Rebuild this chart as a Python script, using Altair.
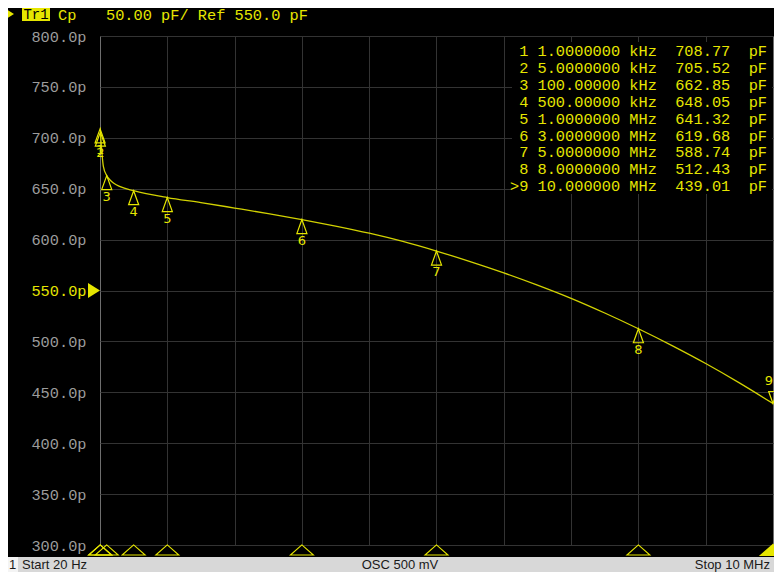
import altair as alt
import pandas as pd

# ---- data -------------------------------------------------------------
trace_freq_mhz = [0.00002, 0.001, 0.005, 0.02, 0.05, 0.1, 0.15, 0.2, 0.3, 0.5,
                  1.0, 1.5, 2.0, 2.5, 3.0, 3.5, 4.0, 4.5, 5.0, 5.5, 6.0, 6.5,
                  7.0, 7.5, 8.0, 8.5, 9.0, 9.5, 10.0]
trace_cp_pf = [710.0, 708.77, 705.52, 692.0, 672.0, 662.85, 658.5, 655.5, 652.0, 648.05,
               641.32, 636.4, 631.0, 625.5, 619.68, 613.3, 606.3, 598.2, 588.74, 578.4,
               567.3, 555.3, 542.3, 527.9, 512.43, 495.9, 478.3, 459.3, 439.01]

marker_id = [1, 2, 3, 4, 5, 6, 7, 8, 9]
marker_freq_mhz = [0.001, 0.005, 0.1, 0.5, 1.0, 3.0, 5.0, 8.0, 10.0]
marker_cp_pf = [708.77, 705.52, 662.85, 648.05, 641.32, 619.68, 588.74, 512.43, 439.01]
marker_freq_text = ["1.0000000", "5.0000000", "100.00000", "500.00000", "1.0000000",
                    "3.0000000", "5.0000000", "8.0000000", "10.000000"]
marker_unit = ["kHz", "kHz", "kHz", "kHz", "MHz", "MHz", "MHz", "MHz", "MHz"]
active_marker = 9

y_ticks = [300, 350, 400, 450, 500, 550, 600, 650, 700, 750, 800]
x_grid = [1, 2, 3, 4, 5, 6, 7, 8, 9]
ref_level = 550.0
scale_div = 50.00

header_trace = "Tr1"
header_param = "Cp"
header_scale = f"{scale_div:.2f} pF/ Ref {ref_level:.1f} pF"
status_start = "Start 20 Hz"
status_osc = "OSC 500 mV"
status_stop = "Stop 10 MHz"
status_channel = "1"

# ---- tables ----------------------------------------------------------
trace_df = pd.DataFrame({"f": trace_freq_mhz, "v": trace_cp_pf})
mk_df = pd.DataFrame({
    "id": marker_id,
    "f": marker_freq_mhz,
    "v": marker_cp_pf,
    "label": [str(i) for i in marker_id],
})
mk_df["active"] = mk_df["id"] == active_marker
ref_df = pd.DataFrame({"v": [ref_level]})
one = pd.DataFrame({"a": [0]})

NB = "\u00a0"
list_lines = []
for i, ft, u, v in zip(marker_id, marker_freq_text, marker_unit, marker_cp_pf):
    prefix = (">" if i == active_marker else " ") + str(i)
    line = f"{prefix} {ft} {u}  {v:.2f}  pF"
    list_lines.append(line.replace(" ", NB))
list_text = "\n".join(list_lines)

YEL = "#e6e600"
TRACE = "#d2d200"

X = alt.X("f:Q", scale=alt.Scale(domain=[0.00002, 10], nice=False, zero=False),
          axis=alt.Axis(values=x_grid, grid=True, labels=False, ticks=False,
                        domain=False, title=None))
Y = alt.Y("v:Q", scale=alt.Scale(domain=[300, 800], nice=False, zero=False),
          axis=alt.Axis(values=y_ticks, grid=True, ticks=False, domain=False, title=None,
                        labelExpr="format(datum.value, '.1f') + 'p'",
                        labelColor=alt.ExprRef(expr=f"datum.value == {ref_level} ? '{YEL}' : '#9c9c9c'"),
                        labelFont="Liberation Mono", labelFontSize=15.3,
                        labelPadding=14, labelFlush=False))

# ---- layers ----------------------------------------------------------
list_box = alt.Chart(one).mark_rect(fill="black").encode(
    x=alt.value(412), x2=alt.value(672), y=alt.value(6), y2=alt.value(158))

list_txt = alt.Chart(one).mark_text(
    align="right", baseline="top", font="Liberation Mono", fontSize=15.3,
    color=YEL, lineBreak="\n", lineHeight=16.9
).encode(x=alt.value(667), y=alt.value(8), text=alt.value(list_text))

trace = alt.Chart(trace_df).mark_line(
    color=TRACE, strokeWidth=1.3, interpolate="monotone", clip=True
).encode(x=X, y=Y)

up_path = "M0,0L-0.36,1L0.36,1Z"
down_path = "M0,0L-0.36,-1L0.36,-1Z"
bottom_path = "M0,-0.44L-1,0.44L1,0.44Z"

mk_up = alt.Chart(mk_df).transform_filter("!datum.active").mark_point(
    shape=up_path, size=784, filled=False, stroke=YEL, strokeWidth=1.2, opacity=1
).encode(x=X, y=Y)

mk_up_lbl = alt.Chart(mk_df).transform_filter("!datum.active").mark_text(
    dy=21, font="DejaVu Sans", fontSize=13, color=YEL, baseline="middle"
).encode(x=X, y=Y, text="label:N")

mk_dn = alt.Chart(mk_df).transform_filter("datum.active").mark_point(
    shape=down_path, size=576, filled=False, stroke=YEL, strokeWidth=1.2, opacity=1
).encode(x=X, y=Y)

mk_dn_lbl = alt.Chart(mk_df).transform_filter("datum.active").mark_text(
    dy=-22, dx=-4, font="DejaVu Sans", fontSize=13, color=YEL, baseline="middle"
).encode(x=X, y=Y, text="label:N")

bot = alt.Chart(mk_df).transform_filter("!datum.active").mark_point(
    shape=bottom_path, size=529, filled=False, stroke=YEL, strokeWidth=1.1, opacity=1
).encode(x=X, y=alt.value(514))

bot_act = alt.Chart(mk_df).transform_filter("datum.active").mark_point(
    shape=bottom_path, size=529, filled=True, fill=YEL, stroke=YEL, opacity=1
).encode(x=X, y=alt.value(514))

ref_path = "M0,0L-1.6,-1L-1.6,1Z"
ref_mark = alt.Chart(ref_df).mark_point(
    shape=ref_path, size=225, filled=True, fill=YEL, opacity=1
).encode(x=alt.value(0), y=Y)

# header
hdr_tri = alt.Chart(one).mark_point(
    shape=ref_path, size=100, filled=True, fill=YEL, opacity=1
).encode(x=alt.value(-86), y=alt.value(-22))
hdr_box = alt.Chart(one).mark_rect(fill=YEL).encode(
    x=alt.value(-78), x2=alt.value(-50), y=alt.value(-28), y2=alt.value(-15))
hdr_tr = alt.Chart(one).mark_text(
    align="center", baseline="alphabetic", font="Liberation Mono", fontSize=14, color="black"
).encode(x=alt.value(-64), y=alt.value(-17), text=alt.value(header_trace))
hdr_cp = alt.Chart(one).mark_text(
    align="left", baseline="alphabetic", font="Liberation Mono", fontSize=15.3, color=YEL
).encode(x=alt.value(-42), y=alt.value(-16), text=alt.value(header_param))
hdr_sc = alt.Chart(one).mark_text(
    align="left", baseline="alphabetic", font="Liberation Mono", fontSize=15.3, color=YEL
).encode(x=alt.value(6), y=alt.value(-16), text=alt.value(header_scale))

# status bar
bar = alt.Chart(one).mark_rect(fill="#d8d8d8").encode(
    x=alt.value(-100), x2=alt.value(690), y=alt.value(521), y2=alt.value(545))
bar_ch = alt.Chart(one).mark_rect(fill="#f4f4f4").encode(
    x=alt.value(-93), x2=alt.value(-82), y=alt.value(521), y2=alt.value(545))
st_ch = alt.Chart(one).mark_text(
    align="center", baseline="middle", font="Liberation Sans", fontSize=13, color="#1a1a1a"
).encode(x=alt.value(-87.5), y=alt.value(528.5), text=alt.value(status_channel))
st_start = alt.Chart(one).mark_text(
    align="left", baseline="middle", font="Liberation Sans", fontSize=13, color="#1a1a1a"
).encode(x=alt.value(-78), y=alt.value(528.5), text=alt.value(status_start))
st_osc = alt.Chart(one).mark_text(
    align="center", baseline="middle", font="Liberation Sans", fontSize=13, color="#1a1a1a"
).encode(x=alt.value(300), y=alt.value(528.5), text=alt.value(status_osc))
st_stop = alt.Chart(one).mark_text(
    align="right", baseline="middle", font="Liberation Sans", fontSize=13, color="#1a1a1a"
).encode(x=alt.value(670), y=alt.value(528.5), text=alt.value(status_stop))

chart = alt.layer(
    trace, list_box, list_txt, mk_up, mk_up_lbl, mk_dn, mk_dn_lbl, bot, bot_act, ref_mark,
    hdr_tri, hdr_box, hdr_tr, hdr_cp, hdr_sc,
    bar, bar_ch, st_ch, st_start, st_osc, st_stop
).properties(
    width=673, height=509,
    padding={"left": 92, "top": 28, "right": 1, "bottom": 27},
    autosize=alt.AutoSizeParams(type="none"),
    background="black",
).configure_view(
    stroke="#6e6e6e", strokeWidth=1
).configure_axis(
    gridColor="#333333", gridWidth=1, gridOpacity=1
)

chart.save("out.html", embed_options={"renderer": "svg", "actions": False})
